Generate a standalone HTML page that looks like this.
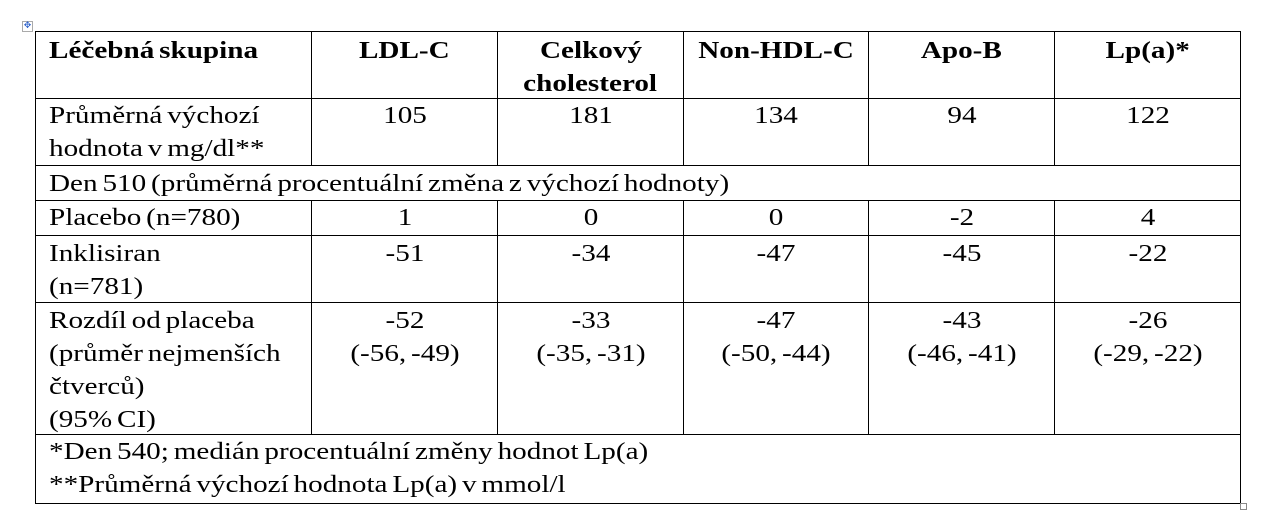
<!DOCTYPE html>
<html><head><meta charset="utf-8"><style>
body{margin:0;background:#fff;width:1272px;height:523px;position:relative;overflow:hidden;font-family:"Liberation Serif",serif;font-size:24px;line-height:33px;color:#000}
.h{position:absolute;height:1px;background:#000}
.v{position:absolute;width:1px;background:#000}
.c{position:absolute;text-align:center;white-space:nowrap}
.c span,.t span{display:inline-block;transform:scaleX(1.215);transform-origin:center;word-spacing:-2px}
.t{position:absolute;white-space:nowrap}
.t span{transform-origin:left}
.b{font-weight:bold}
.mv{position:absolute;left:22px;top:21px;width:9px;height:9px;border:1px solid #aaa;font-size:9px;line-height:9px;color:#36c;text-align:center;font-family:"DejaVu Sans",sans-serif}
.rs{position:absolute;left:1240px;top:503px;width:5px;height:5px;border:1px solid #888}
</style></head><body>
<div class="mv">✥</div>
<div class="h" style="left:35px;top:31px;width:1206px"></div>
<div class="h" style="left:35px;top:98px;width:1206px"></div>
<div class="h" style="left:35px;top:165px;width:1206px"></div>
<div class="h" style="left:35px;top:200px;width:1206px"></div>
<div class="h" style="left:35px;top:235px;width:1206px"></div>
<div class="h" style="left:35px;top:302px;width:1206px"></div>
<div class="h" style="left:35px;top:434px;width:1206px"></div>
<div class="h" style="left:35px;top:503px;width:1206px"></div>
<div class="v" style="left:35px;top:31px;height:473px"></div>
<div class="v" style="left:1240px;top:31px;height:473px"></div>
<div class="v" style="left:311px;top:31px;height:134px"></div>
<div class="v" style="left:497px;top:31px;height:134px"></div>
<div class="v" style="left:683px;top:31px;height:134px"></div>
<div class="v" style="left:868px;top:31px;height:134px"></div>
<div class="v" style="left:1054px;top:31px;height:134px"></div>
<div class="v" style="left:311px;top:200px;height:234px"></div>
<div class="v" style="left:497px;top:200px;height:234px"></div>
<div class="v" style="left:683px;top:200px;height:234px"></div>
<div class="v" style="left:868px;top:200px;height:234px"></div>
<div class="v" style="left:1054px;top:200px;height:234px"></div>

<div class="t b" style="left:49px;top:35px"><span>Léčebná skupina</span></div>
<div class="c b" style="left:312px;width:185px;top:35px"><span>LDL-C</span></div>
<div class="c b" style="left:498px;width:185px;top:35px"><span>Celkový</span><br><span>cholesterol</span></div>
<div class="c b" style="left:684px;width:184px;top:35px"><span>Non-HDL-C</span></div>
<div class="c b" style="left:869px;width:185px;top:35px"><span>Apo-B</span></div>
<div class="c b" style="left:1055px;width:185px;top:35px"><span>Lp(a)*</span></div>

<div class="t" style="left:49px;top:100px"><span>Průměrná výchozí</span><br><span>hodnota v mg/dl**</span></div>
<div class="c" style="left:312px;width:185px;top:100px"><span>105</span></div>
<div class="c" style="left:498px;width:185px;top:100px"><span>181</span></div>
<div class="c" style="left:684px;width:184px;top:100px"><span>134</span></div>
<div class="c" style="left:869px;width:185px;top:100px"><span>94</span></div>
<div class="c" style="left:1055px;width:185px;top:100px"><span>122</span></div>

<div class="t" style="left:49px;top:168px"><span>Den 510 (průměrná procentuální změna z výchozí hodnoty)</span></div>

<div class="t" style="left:49px;top:202px"><span>Placebo (n=780)</span></div>
<div class="c" style="left:312px;width:185px;top:202px"><span>1</span></div>
<div class="c" style="left:498px;width:185px;top:202px"><span>0</span></div>
<div class="c" style="left:684px;width:184px;top:202px"><span>0</span></div>
<div class="c" style="left:869px;width:185px;top:202px"><span>-2</span></div>
<div class="c" style="left:1055px;width:185px;top:202px"><span>4</span></div>

<div class="t" style="left:49px;top:238px"><span>Inklisiran</span><br><span>(n=781)</span></div>
<div class="c" style="left:312px;width:185px;top:238px"><span>-51</span></div>
<div class="c" style="left:498px;width:185px;top:238px"><span>-34</span></div>
<div class="c" style="left:684px;width:184px;top:238px"><span>-47</span></div>
<div class="c" style="left:869px;width:185px;top:238px"><span>-45</span></div>
<div class="c" style="left:1055px;width:185px;top:238px"><span>-22</span></div>

<div class="t" style="left:49px;top:305px"><span>Rozdíl od placeba</span><br><span>(průměr nejmenších</span><br><span>čtverců)</span><br><span>(95% CI)</span></div>
<div class="c" style="left:312px;width:185px;top:305px"><span>-52</span><br><span>(-56, -49)</span></div>
<div class="c" style="left:498px;width:185px;top:305px"><span>-33</span><br><span>(-35, -31)</span></div>
<div class="c" style="left:684px;width:184px;top:305px"><span>-47</span><br><span>(-50, -44)</span></div>
<div class="c" style="left:869px;width:185px;top:305px"><span>-43</span><br><span>(-46, -41)</span></div>
<div class="c" style="left:1055px;width:185px;top:305px"><span>-26</span><br><span>(-29, -22)</span></div>

<div class="t" style="left:49px;top:436px"><span>*Den 540; medián procentuální změny hodnot Lp(a)</span><br><span>**Průměrná výchozí hodnota Lp(a) v mmol/l</span></div>
<div class="rs"></div>
</body></html>
